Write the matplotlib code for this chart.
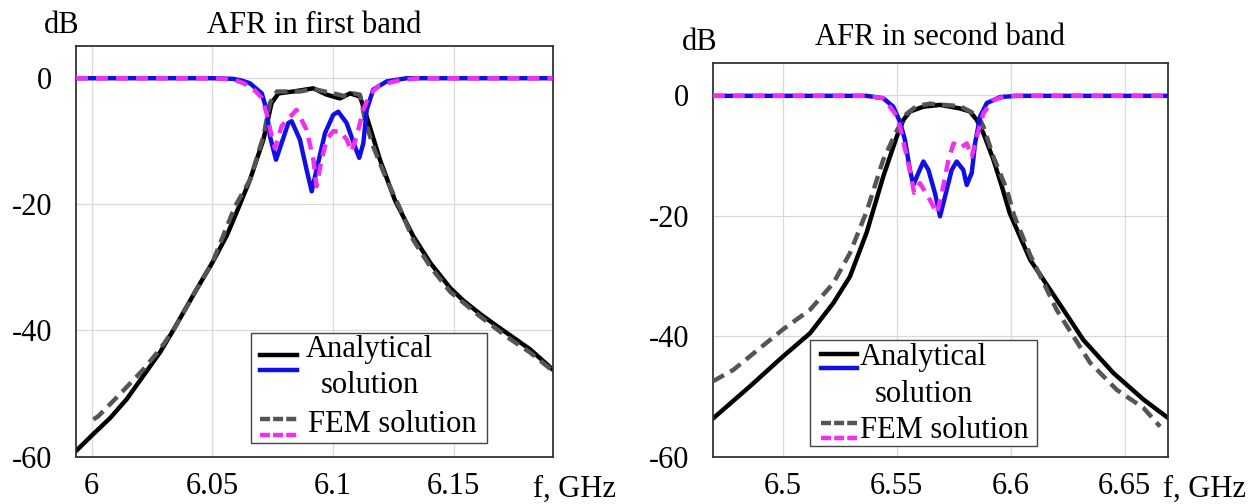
import matplotlib
matplotlib.use("Agg")
import matplotlib.pyplot as plt
from matplotlib.lines import Line2D
from matplotlib.patches import Rectangle

plt.rcParams['font.family'] = ['Liberation Serif', 'DejaVu Serif']

# ---- first band (GHz, dB) ----
b1_an_s21_f = [5.9935, 6.0007, 6.0076, 6.0145, 6.0214, 6.0283, 6.0338, 6.0435, 6.05, 6.056,
               6.0601, 6.0656, 6.0712, 6.0746, 6.0774, 6.0836, 6.0919, 6.0974, 6.1029, 6.1071,
               6.1112, 6.1140, 6.1195, 6.1257, 6.1333, 6.1403, 6.1486, 6.1541, 6.161, 6.1679,
               6.172, 6.1817, 6.1911]
b1_an_s21_db = [-59.1, -56.4, -53.9, -50.9, -47.2, -43.5, -40.0, -33.5, -29.3, -25.0,
                -21.3, -16.2, -9.8, -4.0, -2.5, -2.2, -1.7, -2.7, -3.3, -2.5,
                -3.0, -6.2, -13.0, -19.4, -25.1, -29.3, -33.3, -35.3, -37.4, -39.3,
                -40.4, -43.0, -46.2]

b1_fem_s21_f = [6.0007, 6.0027, 6.0117, 6.0214, 6.0283, 6.0338, 6.0435, 6.05, 6.0594, 6.0656,
                6.0712, 6.0739, 6.0768, 6.0863, 6.0919, 6.1001, 6.1057, 6.1085, 6.1112, 6.1133,
                6.1167, 6.1223, 6.1278, 6.1333, 6.1403, 6.1486, 6.161, 6.172, 6.1817, 6.1911]
b1_fem_s21_db = [-54.1, -53.6, -50.1, -46.2, -43.0, -40.0, -33.5, -29.3, -20.4, -16.2,
                 -9.3, -4.0, -2.2, -2.2, -1.8, -2.5, -3.0, -2.5, -2.7, -6.7,
                 -10.9, -16.2, -20.7, -25.7, -29.9, -33.9, -37.8, -41.0, -43.5, -46.4]

b1_an_s11_f = [5.9935, 6.05, 6.0587, 6.0625, 6.0656, 6.0705, 6.0725, 6.0739, 6.0764, 6.0787,
               6.0815, 6.0829, 6.0863, 6.0891, 6.0912, 6.0932, 6.0967, 6.1001, 6.1022, 6.1057,
               6.1091, 6.1109, 6.1126, 6.1140, 6.1167, 6.1223, 6.1306, 6.1911]
b1_an_s11_db = [-0.1, -0.1, -0.2, -0.5, -0.9, -2.5, -5.1, -9.3, -13.0, -10.4,
                -7.2, -6.9, -9.8, -14.6, -18.0, -14.6, -8.8, -5.9, -5.4, -7.2,
                -10.9, -12.7, -10.4, -5.1, -1.9, -0.6, -0.1, -0.1]

b1_fem_s11_f = [5.9935, 6.05, 6.0587, 6.0630, 6.0670, 6.0705, 6.0725, 6.0746, 6.0760, 6.0787,
                6.0849, 6.0891, 6.0919, 6.0932, 6.0953, 6.0974, 6.1001, 6.1029, 6.1057, 6.1077,
                6.1098, 6.1126, 6.1154, 6.1195, 6.1278, 6.1350, 6.1911]
b1_fem_s11_db = [-0.1, -0.1, -0.3, -0.9, -1.8, -3.2, -5.6, -9.3, -11.2, -7.7,
                 -5.1, -8.3, -13.0, -17.2, -13.0, -9.8, -8.5, -8.5, -9.8, -11.7,
                 -9.3, -5.1, -2.5, -1.2, -0.4, -0.1, -0.1]

# ---- second band (GHz, dB) ----
b2_an_s21_f = [6.4693, 6.4857, 6.5, 6.512, 6.5222, 6.5295, 6.5368, 6.5441, 6.55, 6.5529,
               6.5558, 6.5617, 6.569, 6.5778, 6.5821, 6.5851, 6.588, 6.5924, 6.5960, 6.5995,
               6.6085, 6.6231, 6.6318, 6.645, 6.6582, 6.6691]
b2_an_s21_db = [-53.7, -48.3, -43.4, -39.5, -34.5, -30.1, -22.8, -13.5, -6.9, -4.1,
                -2.7, -1.9, -1.6, -2.2, -2.7, -4.1, -6.3, -10.7, -15.0, -19.5,
                -27.3, -35.6, -40.6, -46.1, -50.5, -53.6]

b2_fem_s21_f = [6.4693, 6.4783, 6.5, 6.512, 6.5222, 6.5295, 6.5368, 6.5441, 6.55, 6.5529,
                6.5543, 6.5587, 6.5646, 6.5705, 6.5778, 6.5836, 6.5866, 6.588, 6.5924, 6.5983,
                6.6015, 6.6085, 6.6201, 6.6348, 6.6465, 6.6582, 6.6655]
b2_fem_s21_db = [-47.5, -45.6, -38.9, -35.6, -31.2, -26.2, -19.3, -10.7, -5.9, -4.0,
                 -3.1, -1.8, -1.4, -1.6, -1.8, -3.0, -4.1, -5.2, -10.2, -15.7,
                 -20.0, -26.5, -35.6, -44.4, -48.9, -51.9, -55.0]

b2_an_s11_f = [6.4693, 6.5368, 6.5441, 6.5485, 6.5514, 6.5536, 6.5558, 6.5573, 6.5595, 6.5617,
               6.5639, 6.5668, 6.569, 6.5712, 6.5741, 6.5763, 6.5792, 6.5807, 6.5829, 6.5844,
               6.5866, 6.5895, 6.5954, 6.6027, 6.6691]
b2_an_s11_db = [-0.1, -0.1, -0.5, -1.9, -4.4, -7.4, -12.4, -14.9, -12.9, -11.0,
                -12.4, -16.3, -20.1, -16.8, -12.4, -11.0, -12.4, -14.9, -12.9, -7.9,
                -3.5, -1.3, -0.3, -0.1, -0.1]

b2_fem_s11_f = [6.4693, 6.5368, 6.5441, 6.5492, 6.5514, 6.5544, 6.5566, 6.5576, 6.5602, 6.5646,
                6.5676, 6.5698, 6.5727, 6.5749, 6.5778, 6.5807, 6.5829, 6.5851, 6.588, 6.5924,
                6.5983, 6.6691]
b2_fem_s11_db = [-0.1, -0.1, -0.5, -3.0, -5.2, -10.2, -14.0, -16.2, -14.6, -17.4,
                 -19.6, -16.2, -10.7, -8.0, -8.8, -8.0, -10.2, -6.9, -3.0, -0.8,
                 -0.1, -0.1]

y_ticks = [0, -20, -40, -60]
y_labels = ['0', '-20', '-40', '-60']
b1_xticks = [6.0, 6.05, 6.1, 6.15]
b1_xlabels = ['6', '6.05', '6.1', '6.15']
b2_xticks = [6.5, 6.55, 6.6, 6.65]
b2_xlabels = ['6.5', '6.55', '6.6', '6.65']

W, H = 1254, 504
FS = 22
c_black = '#000000'
c_blue = '#1010e6'
c_gray = '#555555'
c_mag = '#f030ee'
LW = 3.2

fig = plt.figure(figsize=(W / 100, H / 100), dpi=100)


def px_axes(l, t, r, b):
    return [l / W, 1 - b / H, (r - l) / W, (b - t) / H]


def setup(ax, xlim, ylim, xt, xl):
    ax.set_xlim(*xlim)
    ax.set_ylim(*ylim)
    ax.set_xticks(xt)
    ax.set_xticklabels(xl)
    ax.set_yticks(y_ticks)
    ax.set_yticklabels(y_labels)
    ax.tick_params(axis='both', length=0, labelsize=FS)
    ax.tick_params(axis='y', pad=17)
    ax.tick_params(axis='x', pad=11)
    ax.grid(True, color='#d9d9d9', lw=0.9)
    ax.set_axisbelow(True)
    for s in ax.spines.values():
        s.set_color('#333333')
        s.set_linewidth(1.3)


def draw(ax, s21a, s21f, s11a, s11f):
    ax.plot(*s21a, color=c_black, lw=LW, solid_joinstyle='round', zorder=2)
    ax.plot(*s21f, color=c_gray, lw=LW, dashes=(2.9, 1.6), zorder=3)
    ax.plot(*s11a, color=c_blue, lw=LW, solid_joinstyle='round', zorder=4)
    ax.plot(*s11f, color=c_mag, lw=LW, dashes=(2.7, 1.8), zorder=5)


def legend_box(ax, box, lx, ys, txt):
    # box = (x0, y0, x1, y1) in axes fraction
    ax.add_patch(Rectangle((box[0], box[1]), box[2] - box[0], box[3] - box[1],
                           transform=ax.transAxes, facecolor='white',
                           edgecolor='#444444', lw=1.0, zorder=10))
    cols = [c_black, c_blue, c_gray, c_mag]
    for i, (c, y) in enumerate(zip(cols, ys)):
        kw = dict(dashes=(2.25, 0.7)) if i >= 2 else {}
        ax.add_line(Line2D(lx, [y, y], transform=ax.transAxes, color=c,
                           lw=LW, zorder=11, **kw))
    for (tx, ty, s) in txt:
        ax.text(tx, ty, s, transform=ax.transAxes, fontsize=FS,
                va='baseline', ha='left', zorder=12)


# left panel
ax1 = fig.add_axes(px_axes(76, 46, 552.7, 456.7))
setup(ax1, (5.9935, 6.1911), (-60, 5), b1_xticks, b1_xlabels)
draw(ax1, (b1_an_s21_f, b1_an_s21_db), (b1_fem_s21_f, b1_fem_s21_db),
     (b1_an_s11_f, b1_an_s11_db), (b1_fem_s11_f, b1_fem_s11_db))
legend_box(ax1, (0.367, 0.033, 0.862, 0.300), [0.386, 0.464],
           [0.2476, 0.211, 0.091, 0.053],
           [(0.4825, 0.243, 'Analytical'), (0.513, 0.155, 'solution'),
            (0.487, 0.061, 'FEM solution')])

# right panel
ax2 = fig.add_axes(px_axes(712.7, 62.7, 1168.3, 456.7))
setup(ax2, (6.4693, 6.6691), (-60, 5.4), b2_xticks, b2_xlabels)
draw(ax2, (b2_an_s21_f, b2_an_s21_db), (b2_fem_s21_f, b2_fem_s21_db),
     (b2_an_s11_f, b2_an_s11_db), (b2_fem_s11_f, b2_fem_s11_db))
legend_box(ax2, (0.2136, 0.027, 0.7116, 0.296), [0.237, 0.316],
           [0.2607, 0.2246, 0.0848, 0.0467],
           [(0.3233, 0.2327, 'Analytical'), (0.356, 0.1396, 'solution'),
            (0.3233, 0.0467, 'FEM solution')])


# titles, units
def ftext(x, y, s, ha='center'):
    fig.text(x / W, 1 - y / H, s, fontsize=FS, ha=ha, va='baseline')


ftext(314, 33, 'AFR in first band')
ftext(62, 33, 'dB')
ftext(940, 45, 'AFR in second band')
ftext(700, 50, 'dB')
ftext(533, 497, 'f, GHz', ha='left')
ftext(1163, 497, 'f, GHz', ha='left')

fig.savefig('out.png', dpi=100)
